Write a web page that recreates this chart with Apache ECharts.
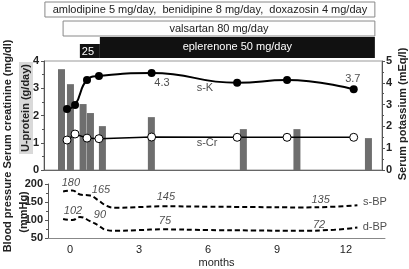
<!DOCTYPE html>
<html><head><meta charset="utf-8">
<script src="https://cdn.jsdelivr.net/npm/echarts@6/dist/echarts.min.js"></script>
<style>html,body{margin:0;padding:0;background:#fff}#c{width:409px;height:269px}</style>
</head><body><div id="c"></div><script>
// ---- data ----
const proteinMonths = [-0.37, 0.02, 0.57, 0.89, 1.41, 3.54, 7.54, 9.87, 12.98];
const uProtein      = [3.7, 3.15, 2.42, 2.09, 1.61, 1.94, 1.5, 1.5, 1.17];
const labMonths = [-0.13, 0.22, 0.74, 1.26, 3.55, 7.27, 9.44, 12.34];
const sCr = [1.1, 1.32, 1.17, 1.15, 1.21, 1.2, 1.2, 1.2];
const sK  = [2.8, 2.98, 4.13, 4.31, 4.45, 4.0, 4.13, 3.7];
const bpMonths = [-0.3, 0.1, 0.43, 0.87, 1.2, 1.6, 1.96, 3, 4, 6, 8, 10, 11.5, 12.5];
const sBP = [179, 182, 171, 168, 156, 139, 134, 136, 138, 137, 136, 135, 137, 141];
const dBP = [103, 100, 108, 97, 86, 72, 70, 72, 74, 72, 71, 70, 73, 79];
const monthTicks = [0, 3, 6, 9, 12];
const treatRows  = ['ca', 'arb', 'epl'];
const treatLabel = ['amlodipine 5 mg/day,  benidipine 8 mg/day,  doxazosin 4 mg/day', 'valsartan 80 mg/day', '25', 'eplerenone 50 mg/day'];
const treatStart = [-1.09, -0.3, 0.43, 1.3];
const treatEnd   = [13.26, 13.26, 1.3, 13.26];
const treatRow   = [0, 1, 2, 2];
const treatKind  = ['box', 'box', 'low', 'high'];
const topNotes = [['4.3', 4.0, 3.19], ['s-K', 5.87, 3.0], ['3.7', 12.3, 3.34], ['s-Cr', 5.96, 0.99]];
const bpNotes  = [['180', 0.04, 202], ['165', 1.35, 184], ['145', 4.17, 163], ['135', 10.9, 155],
                  ['102', 0.13, 124], ['90', 1.3, 113], ['75', 4.13, 97], ['72', 10.83, 87],
                  ['s-BP', 13.26, 150], ['d-BP', 13.26, 82]];

const FONT = 'Liberation Sans, Arial, sans-serif';
const zip = (a, b) => a.map((v, i) => [v, b[i]]);
const chart = echarts.init(document.getElementById('c'), null, {renderer: 'canvas'});

const yCommon = {
  axisLine: {show: true, onZero: false, lineStyle: {color: '#555', width: 1}},
  axisTick: {show: true, length: 3, lineStyle: {color: '#555'}},
  minorTick: {show: true, splitNumber: 2, length: 2, lineStyle: {color: '#555'}},
  splitLine: {show: false},
  axisLabel: {fontFamily: FONT, fontSize: 11, fontWeight: 'bold', color: '#222', margin: 5}
};

const treatData = treatLabel.map((l, i) => ({value: [treatStart[i], treatEnd[i], treatRow[i]], name: l, kind: treatKind[i]}));

chart.setOption({
  animation: false,
  textStyle: {fontFamily: FONT},
  grid: [
    {left: 44, right: 27, top: 61, height: 109, show: true, borderColor: '#999', borderWidth: 1, backgroundColor: 'transparent'},
    {left: 48, right: 24, top: 184, height: 57},
    {left: 44, right: 27, top: 0, height: 57}
  ],
  xAxis: [
    {gridIndex: 0, type: 'value', min: -1.13, max: 13.57, axisLine: {onZero: false, lineStyle: {color: '#666'}},
     axisTick: {show: false}, axisLabel: {show: false}, splitLine: {show: false}},
    {gridIndex: 1, type: 'value', min: -0.957, max: 13.7, axisLine: {onZero: false, lineStyle: {color: '#888'}},
     axisTick: {show: false}, splitLine: {show: false},
     axisLabel: {customValues: monthTicks, fontFamily: FONT, fontSize: 11, color: '#222', margin: 6},
     name: 'months', nameLocation: 'middle', nameGap: 19,
     nameTextStyle: {fontFamily: FONT, fontSize: 11, color: '#222'}},
    {gridIndex: 2, type: 'value', min: -1.13, max: 13.57, show: false}
  ],
  yAxis: [
    Object.assign({gridIndex: 0, type: 'value', min: 0, max: 4, interval: 1, position: 'left'}, yCommon),
    Object.assign({gridIndex: 0, type: 'value', min: 0, max: 5, interval: 1, position: 'right'}, yCommon,
      {axisLabel: Object.assign({}, yCommon.axisLabel, {margin: 4})}),
    Object.assign({gridIndex: 1, type: 'value', min: 50, max: 200, interval: 50, position: 'left'}, yCommon),
    {gridIndex: 2, type: 'category', data: treatRows, inverse: true, show: false}
  ],
  graphic: [
    {type: 'text', x: 8, y: 104, rotation: Math.PI / 2,
     style: {text: 'Serum creatinine (mg/dl)', font: 'bold 11px ' + FONT, fill: '#222', align: 'center', verticalAlign: 'middle'}},
    {type: 'rect', x: 19, y: 62, shape: {width: 14, height: 92}, style: {fill: '#d9d9d9'}},
    {type: 'text', x: 26, y: 108, rotation: Math.PI / 2,
     style: {text: 'U-protein (g/day)', font: 'bold 11px ' + FONT, fill: '#222', align: 'center', verticalAlign: 'middle'}},
    {type: 'text', x: 403, y: 114, rotation: Math.PI / 2,
     style: {text: 'Serum potassium (mEq/l)', font: 'bold 11px ' + FONT, fill: '#222', align: 'center', verticalAlign: 'middle'}},
    {type: 'text', x: 8, y: 212, rotation: Math.PI / 2,
     style: {text: 'Blood pressure', font: 'bold 11px ' + FONT, fill: '#222', align: 'center', verticalAlign: 'middle'}},
    {type: 'text', x: 24, y: 212, rotation: Math.PI / 2,
     style: {text: '(mmHg)', font: 'bold 11px ' + FONT, fill: '#222', align: 'center', verticalAlign: 'middle'}}
  ],
  series: [
    {type: 'bar', xAxisIndex: 0, yAxisIndex: 0, data: zip(proteinMonths, uProtein), barWidth: 7,
     itemStyle: {color: '#6e6e6e'}, z: 1},
    {type: 'line', xAxisIndex: 0, yAxisIndex: 0, data: zip(labMonths, sCr), symbol: 'circle', symbolSize: 8,
     itemStyle: {color: '#fff', borderColor: '#000', borderWidth: 1}, lineStyle: {color: '#000', width: 1.5}, z: 3},
    {type: 'line', xAxisIndex: 0, yAxisIndex: 1, data: zip(labMonths, sK), smooth: true, symbol: 'circle', symbolSize: 8,
     itemStyle: {color: '#000'}, lineStyle: {color: '#000', width: 2}, z: 3},
    {type: 'line', xAxisIndex: 1, yAxisIndex: 2, data: zip(bpMonths, sBP), smooth: true, showSymbol: false,
     lineStyle: {color: '#000', width: 2, type: [5, 3]}},
    {type: 'line', xAxisIndex: 1, yAxisIndex: 2, data: zip(bpMonths, dBP), smooth: true, showSymbol: false,
     lineStyle: {color: '#000', width: 2, type: [5, 3]}},
    {type: 'scatter', xAxisIndex: 0, yAxisIndex: 0, symbolSize: 0, silent: true, clip: false,
     data: topNotes.map(n => ({name: n[0], value: [n[1], n[2]]})),
     label: {show: true, position: 'inside', formatter: '{b}', fontFamily: FONT, fontSize: 11, color: '#222'}},
    {type: 'scatter', xAxisIndex: 1, yAxisIndex: 2, symbolSize: 0, silent: true, clip: false,
     data: bpNotes.map(n => ({name: n[0], value: [n[1], n[2]],
       label: {fontStyle: /^\d/.test(n[0]) ? 'italic' : 'normal'}})),
     label: {show: true, position: 'inside', formatter: '{b}', fontFamily: FONT, fontSize: 11, color: '#222'}},
    {type: 'custom', xAxisIndex: 2, yAxisIndex: 3, data: treatData, clip: false,
     encode: {x: [0, 1], y: 2},
     renderItem: function (params, api) {
       const item = treatData[params.dataIndex];
       const p0 = api.coord([api.value(0), api.value(2)]);
       const p1 = api.coord([api.value(1), api.value(2)]);
       const band = api.size([0, 1])[1];
       const top = p0[1] - band / 2;
       const bottom = p0[1] + band / 2;
       let y0, y1, fill, stroke, tfill;
       if (item.kind === 'box') { y0 = top + 2; y1 = bottom - 2; fill = '#fdfdfd'; stroke = '#888'; tfill = '#222'; }
       else if (item.kind === 'high') { y0 = top - 1; y1 = bottom + 1; fill = '#111'; stroke = null; tfill = '#fff'; }
       else { y0 = top + 6; y1 = bottom + 1; fill = '#111'; stroke = null; tfill = '#fff'; }
       const align = item.kind === 'low' ? 'left' : 'center';
       const tx = item.kind === 'low' ? p0[0] + 2 : (p0[0] + p1[0]) / 2;
       const ty = item.kind === 'low' ? (y0 + y1) / 2 + 1 : (y0 + y1) / 2 + (item.kind === 'high' ? -1 : 0);
       return {type: 'group', children: [
         {type: 'rect', shape: {x: p0[0], y: y0, width: p1[0] - p0[0], height: y1 - y0},
          style: {fill: fill, stroke: stroke, lineWidth: 1}},
         {type: 'text', style: {text: item.name, x: tx, y: ty, align: align, verticalAlign: 'middle',
          font: '11px ' + FONT, fill: tfill}}
       ]};
     }}
  ]
});
</script></body></html>
